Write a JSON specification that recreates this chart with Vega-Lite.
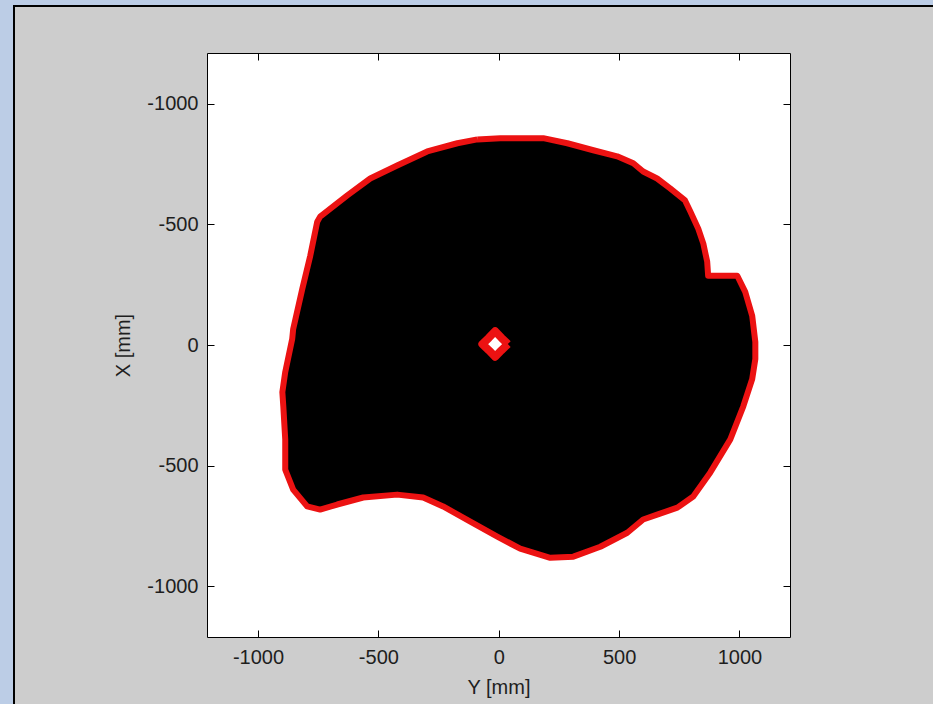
{
  "$schema": "https://vega.github.io/schema/vega-lite/v6.json",
  "background": "#cdcdcd",
  "padding": 0,
  "spacing": 0,
  "config": {
    "view": {"stroke": null},
    "concat": {"spacing": 0},
    "axis": {
      "labelFont": "Liberation Sans",
      "titleFont": "Liberation Sans",
      "labelFontSize": 20,
      "titleFontSize": 20,
      "labelColor": "#1e1e1e",
      "titleColor": "#1e1e1e",
      "titleFontWeight": "normal",
      "grid": false,
      "domain": false,
      "tickColor": "#000",
      "tickSize": -7,
      "tickWidth": 1
    }
  },
  "datasets": {
    "boundary": [
      {"i": 1, "Y": -89, "X": -852},
      {"i": 2, "Y": 6, "X": -857},
      {"i": 3, "Y": 185, "X": -857},
      {"i": 4, "Y": 285, "X": -836},
      {"i": 5, "Y": 393, "X": -807},
      {"i": 6, "Y": 492, "X": -782},
      {"i": 7, "Y": 559, "X": -753},
      {"i": 8, "Y": 600, "X": -719},
      {"i": 9, "Y": 658, "X": -690},
      {"i": 10, "Y": 712, "X": -649},
      {"i": 11, "Y": 774, "X": -599},
      {"i": 12, "Y": 796, "X": -553},
      {"i": 13, "Y": 829, "X": -482},
      {"i": 14, "Y": 850, "X": -420},
      {"i": 15, "Y": 866, "X": -345},
      {"i": 16, "Y": 870, "X": -287},
      {"i": 17, "Y": 991, "X": -287},
      {"i": 18, "Y": 1024, "X": -220},
      {"i": 19, "Y": 1053, "X": -121},
      {"i": 20, "Y": 1066, "X": -12},
      {"i": 21, "Y": 1066, "X": 58},
      {"i": 22, "Y": 1053, "X": 141},
      {"i": 23, "Y": 1016, "X": 254},
      {"i": 24, "Y": 962, "X": 391},
      {"i": 25, "Y": 879, "X": 528},
      {"i": 26, "Y": 808, "X": 628},
      {"i": 27, "Y": 742, "X": 674},
      {"i": 28, "Y": 658, "X": 703},
      {"i": 29, "Y": 600, "X": 723},
      {"i": 30, "Y": 534, "X": 778},
      {"i": 31, "Y": 422, "X": 836},
      {"i": 32, "Y": 310, "X": 877},
      {"i": 33, "Y": 214, "X": 882},
      {"i": 34, "Y": 89, "X": 844},
      {"i": 35, "Y": -6, "X": 794},
      {"i": 36, "Y": -118, "X": 732},
      {"i": 37, "Y": -231, "X": 669},
      {"i": 38, "Y": -314, "X": 632},
      {"i": 39, "Y": -422, "X": 620},
      {"i": 40, "Y": -563, "X": 632},
      {"i": 41, "Y": -671, "X": 661},
      {"i": 42, "Y": -742, "X": 682},
      {"i": 43, "Y": -796, "X": 669},
      {"i": 44, "Y": -854, "X": 599},
      {"i": 45, "Y": -887, "X": 516},
      {"i": 46, "Y": -887, "X": 391},
      {"i": 47, "Y": -895, "X": 254},
      {"i": 48, "Y": -899, "X": 195},
      {"i": 49, "Y": -887, "X": 112},
      {"i": 50, "Y": -858, "X": -25},
      {"i": 51, "Y": -854, "X": -66},
      {"i": 52, "Y": -816, "X": -233},
      {"i": 53, "Y": -783, "X": -370},
      {"i": 54, "Y": -754, "X": -511},
      {"i": 55, "Y": -742, "X": -532},
      {"i": 56, "Y": -629, "X": -620},
      {"i": 57, "Y": -534, "X": -690},
      {"i": 58, "Y": -422, "X": -744},
      {"i": 59, "Y": -297, "X": -802},
      {"i": 60, "Y": -172, "X": -836},
      {"i": 61, "Y": -89, "X": -852}
    ],
    "ring": [
      {"i": 1, "Y": 38, "X": -4},
      {"i": 2, "Y": 11, "X": 22},
      {"i": 3, "Y": -15, "X": 49},
      {"i": 4, "Y": -41, "X": 22},
      {"i": 5, "Y": -68, "X": -4},
      {"i": 6, "Y": -41, "X": -30},
      {"i": 7, "Y": -15, "X": -57},
      {"i": 8, "Y": 11, "X": -30},
      {"i": 9, "Y": 38, "X": -4}
    ],
    "none": []
  },
  "vconcat": [
    {"data": {"name": "none"}, "mark": "point", "width": 933, "height": 5, "view": {"fill": "#bccde6", "stroke": null}},
    {
      "spacing": 0,
      "hconcat": [
        {"data": {"name": "none"}, "mark": "point", "width": 13, "height": 2, "view": {"fill": "#bccde6", "stroke": null}},
        {"data": {"name": "none"}, "mark": "point", "width": 920, "height": 2, "view": {"fill": "#000000", "stroke": null}}
      ]
    },
    {
      "spacing": 0,
      "hconcat": [
        {"data": {"name": "none"}, "mark": "point", "width": 13, "height": 697, "view": {"fill": "#bccde6", "stroke": null}},
        {
          "spacing": 98,
          "hconcat": [
            {"data": {"name": "none"}, "mark": "point", "width": 2, "height": 697, "view": {"fill": "#000000", "stroke": null}},
            {
              "spacing": 44,
              "vconcat": [
                {"data": {"name": "none"}, "mark": "point", "width": 1, "height": 1, "view": {"fill": null, "stroke": null}},
                {
                  "width": 583,
                  "height": 584,
                  "view": {"fill": "#ffffff", "stroke": "#000000", "strokeWidth": 1},
                  "layer": [
                    {
                      "data": {"name": "boundary"},
                      "mark": {"type": "line", "fill": "#000000", "stroke": "#ec1212", "strokeWidth": 6, "strokeJoin": "round"},
                      "encoding": {
                        "x": {
                          "field": "Y", "type": "quantitative",
                          "scale": {"domain": [-1212, 1210], "nice": false, "zero": false},
                          "axis": {"orient": "bottom", "title": "Y [mm]", "values": [-1000, -500, 0, 500, 1000],
                                   "labelExpr": "datum.value == 0 ? '0' : (datum.value < 0 ? '-' : '') + abs(datum.value)",
                                   "labelPadding": 17, "titlePadding": 10}
                        },
                        "y": {
                          "field": "X", "type": "quantitative",
                          "scale": {"domain": [-1210, 1210], "nice": false, "zero": false, "reverse": true},
                          "axis": {"orient": "left", "title": "X [mm]", "values": [-1000, -500, 0, 500, 1000],
                                   "labelExpr": "datum.value == 0 ? '0' : '-' + abs(datum.value)",
                                   "labelPadding": 16, "titlePadding": 13}
                        },
                        "order": {"field": "i", "type": "quantitative"}
                      }
                    },
                    {
                      "data": {"name": "ring"},
                      "mark": {"type": "line", "fill": "#ffffff", "stroke": "#ec1212", "strokeWidth": 8, "strokeJoin": "round"},
                      "encoding": {
                        "x": {
                          "field": "Y", "type": "quantitative",
                          "scale": {"domain": [-1212, 1210], "nice": false, "zero": false},
                          "axis": {"orient": "top", "labels": false, "title": null, "values": [-1000, -500, 0, 500, 1000]}
                        },
                        "y": {
                          "field": "X", "type": "quantitative",
                          "scale": {"domain": [-1210, 1210], "nice": false, "zero": false, "reverse": true},
                          "axis": {"orient": "right", "labels": false, "title": null, "values": [-1000, -500, 0, 500, 1000]}
                        },
                        "order": {"field": "i", "type": "quantitative"}
                      }
                    }
                  ],
                  "resolve": {"axis": {"x": "independent", "y": "independent"}}
                }
              ]
            }
          ]
        }
      ]
    }
  ]
}
